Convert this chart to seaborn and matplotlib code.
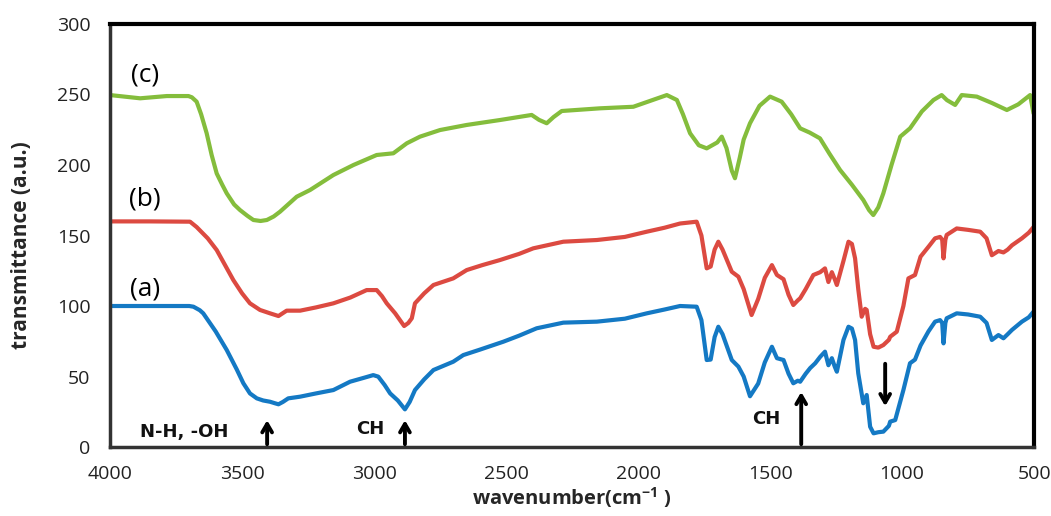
import matplotlib
matplotlib.use("Agg")
import matplotlib.pyplot as plt
import seaborn as sns
import pandas as pd

# ---- data ----
wn_a = [4000, 3850, 3700, 3684, 3660, 3647, 3600, 3558, 3520, 3495, 3470, 3444, 3420, 3394, 3375, 3362,
        3345, 3325, 3280, 3220, 3154, 3091, 3040, 3003, 2984, 2960, 2939, 2910, 2883, 2865, 2845, 2810,
        2775, 2700, 2662, 2600, 2510, 2450, 2384, 2283, 2156, 2050, 1967, 1900, 1841, 1778, 1760, 1740,
        1725, 1710, 1696, 1680, 1645, 1620, 1600, 1576, 1545, 1520, 1493, 1474, 1449, 1430, 1412, 1395,
        1386, 1365, 1348, 1329, 1310, 1292, 1279, 1266, 1255, 1247, 1222, 1203, 1190, 1178, 1166, 1147,
        1134, 1121, 1108, 1090, 1071, 1050, 1045, 1026, 995, 970, 951, 930, 900, 875, 856, 848, 843,
        836, 831, 793, 750, 704, 680, 660, 635, 616, 600, 584, 546, 520, 502]
t_a = [100, 100, 100, 99.5, 97, 94.8, 82, 68.8, 55, 45.2, 38, 34.5, 33, 32.1, 31, 30.3,
       32, 34.5, 35.7, 38, 40.4, 46.3, 49, 51, 49.9, 44, 38, 33, 26.7, 32, 40.4, 48,
       54.6, 60.5, 65.2, 69, 74.7, 79, 84.2, 88.2, 88.9, 91, 94.8, 97.5, 100, 99.5, 90, 61.7,
       62, 78, 85.3, 80, 61.7, 57, 50, 36, 45, 60, 71.1, 63, 61.7, 52, 45.2, 47,
       46.3, 52, 56, 59.4, 64, 67.6, 58, 63, 57, 53.4, 75.9, 85.3, 84, 75.9, 52.3, 31,
       36.9, 14.4, 9.7, 10.5, 10.9, 15, 18, 19.1, 40.4, 59.4, 62, 72, 82, 88.9, 90, 88, 73.5,
       88, 91.3, 94.8, 94, 92.4, 88, 75.9, 79.4, 77.1, 80, 83, 88.9, 92, 96]

wn_b = [4000, 3850, 3697, 3672, 3630, 3596, 3533, 3500, 3470, 3432, 3394, 3362, 3345, 3331, 3280, 3220,
        3154, 3090, 3028, 2990, 2970, 2952, 2920, 2886, 2870, 2857, 2845, 2810, 2775, 2700, 2649, 2590,
        2523, 2450, 2397, 2283, 2156, 2050, 1967, 1900, 1841, 1778, 1760, 1740, 1725, 1710, 1696, 1680,
        1645, 1620, 1600, 1570, 1545, 1520, 1493, 1474, 1449, 1430, 1412, 1395, 1386, 1365, 1336, 1310,
        1292, 1279, 1266, 1255, 1247, 1222, 1203, 1190, 1178, 1166, 1153, 1140, 1134, 1121, 1108, 1090,
        1071, 1050, 1045, 1020, 995, 976, 951, 930, 900, 875, 856, 848, 843, 836, 831, 793, 750, 704,
        680, 660, 635, 616, 600, 584, 546, 520, 502]
t_b = [160, 160, 159.8, 156, 148, 139.7, 118.4, 109, 101.9, 97.2, 94.8, 92.9, 95, 96.7, 96.7, 99,
       101.9, 106, 111.3, 111.3, 107, 101.9, 94.8, 85.8, 88, 91.3, 101.9, 109, 114.9, 119.6, 125.5, 129,
       132.6, 137, 140.9, 145.6, 146.8, 149, 152.7, 155.5, 158.5, 159.8, 150, 126.7, 128, 140, 145.6, 140,
       124.3, 120.8, 112, 93.6, 105, 120, 129, 122, 119, 108, 100.7, 104, 105.5, 112, 122, 124,
       126.7, 117, 124, 119, 114.9, 132, 145.6, 144, 133.8, 112, 92.4, 98, 97.2, 80, 71.1, 70.5,
       72.3, 76, 78.2, 81.8, 100, 119.6, 122, 135, 142, 148, 149, 147, 133.8, 147, 150.4, 155, 154, 152.7,
       148, 136, 139, 138, 140, 143, 148, 152, 156]

wn_c = [4000, 3886, 3785, 3703, 3690, 3672, 3655, 3634, 3615, 3596, 3575, 3558, 3530, 3508, 3480, 3457,
        3430, 3406, 3380, 3356, 3293, 3242, 3154, 3078,
        2990, 2927, 2876, 2826, 2750, 2649, 2523, 2403, 2375, 2346, 2320, 2289, 2144, 2018, 1891, 1853,
        1830, 1803, 1770, 1740, 1700, 1683, 1665, 1645, 1633, 1615, 1600, 1576, 1540, 1500, 1456, 1420,
        1386, 1350, 1311, 1275, 1235, 1190, 1147, 1125, 1109, 1090, 1071, 1040, 1007, 970, 925, 881,
        850, 830, 799, 774, 717, 660, 603, 560, 515, 502]
t_c = [249.6, 247.3, 248.9, 248.9, 248, 244.9, 236, 222.5, 207, 194, 186, 179.9, 172, 168.1, 164, 161,
       160.3, 161, 163.5, 166.9, 177.5, 182.3, 192.9, 200,
       207.1, 208.3, 215.4, 220.1, 224.8, 228.4, 231.9, 235.5, 232, 229.6, 234, 238.3, 240.2, 241.3, 249.6, 246.1,
       236, 222.5, 214, 211.8, 216, 220.1, 212, 196, 190.6, 205, 218, 229.6, 242, 248.5, 244.9, 236,
       226, 223, 218.9, 208, 196.5, 186, 175.2, 168, 164.5, 170, 179.9, 200, 220.1, 226, 238, 246.1,
       249.6, 246, 242.6, 249.6, 248.5, 244, 239, 243, 249.6, 236.6]

series_names = ["(a)", "(b)", "(c)"]
series_colors = ["#1479c4", "#dc4a41", "#84bd3c"]
label_pos = [(3867, 112), (3867, 176), (3867, 264)]

peak_texts = ["N-H, -OH", "CH", "CH"]
peak_text_pos = [(3720, 11), (3015, 12.5), (1515, 20)]
up_arrows = [(3405, 0, 21), (2883, 0, 21), (1382, 0, 41)]
down_arrow = (1064, 61, 27)

xticks = [4000, 3500, 3000, 2500, 2000, 1500, 1000, 500]
yticks = [0, 50, 100, 150, 200, 250, 300]

# ---- build frame ----
frames = []
for name, wn, t in zip(series_names, [wn_a, wn_b, wn_c], [t_a, t_b, t_c]):
    frames.append(pd.DataFrame({"wavenumber": wn, "T": t, "sample": name}))
df = pd.concat(frames, ignore_index=True)

sns.set_style("white")
plt.rcParams["font.family"] = ["Open Sans", "DejaVu Sans"]
plt.rcParams["mathtext.fontset"] = "custom"
plt.rcParams["mathtext.rm"] = "Open Sans"
plt.rcParams["mathtext.bf"] = "Open Sans:bold"

fig = plt.figure(figsize=(10.51, 5.16), dpi=100)
ax = fig.add_axes([0.1047, 0.1337, 0.8792, 0.8198])

sns.lineplot(data=df, x="wavenumber", y="T", hue="sample", palette=dict(zip(series_names, series_colors)),
             estimator=None, sort=False, linewidth=3.0, legend=False, ax=ax,
             solid_joinstyle="round", solid_capstyle="round")

ax.set_xlim(4000, 500)
ax.set_ylim(0, 300)
ax.set_xticks(xticks)
ax.set_yticks(yticks)
ax.tick_params(axis="both", which="major", labelsize=14, direction="out", length=5,
               width=1.2, color="#888888", labelcolor="#222222")
ax.tick_params(axis="x", pad=8)
ax.tick_params(axis="y", pad=9)

for side in ["top", "right"]:
    ax.spines[side].set_color("black")
    ax.spines[side].set_linewidth(3)
for side in ["left", "bottom"]:
    ax.spines[side].set_color("#333333")
    ax.spines[side].set_linewidth(2.5)

ax.set_xlabel(r"wavenumber(cm$^{\mathbf{-1}}$ )", fontsize=14.5, fontweight="bold")
ax.xaxis.set_label_coords(0.5, -0.09)
ax.set_ylabel("transmittance (a.u.)", fontsize=15, fontweight="bold")
ax.yaxis.set_label_coords(-0.084, 0.4775)

for name, (x, y) in zip(series_names, label_pos):
    ax.text(x, y, name, fontsize=19, ha="center", va="center", color="black")

for txt, (x, y) in zip(peak_texts, peak_text_pos):
    ax.text(x, y, txt, fontsize=13, fontweight="bold", ha="center", va="center",
            family="DejaVu Sans", color="#111111")

for x, y0, y1 in up_arrows:
    ax.annotate("", xy=(x, y1), xytext=(x, y0),
                arrowprops=dict(arrowstyle="->,head_length=0.6,head_width=0.35", color="black", lw=2.8),
                annotation_clip=False)
x, y0, y1 = down_arrow
ax.annotate("", xy=(x, y1), xytext=(x, y0),
            arrowprops=dict(arrowstyle="->,head_length=0.6,head_width=0.35", color="black", lw=2.8))

fig.savefig("out.png", dpi=100)
